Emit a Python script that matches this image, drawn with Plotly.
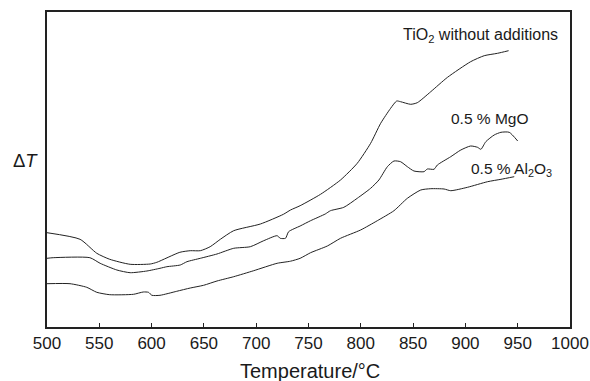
import plotly.graph_objects as go

# TiO2 without additions
t_tio2 = [500, 531.6, 547.6, 560, 579.5, 598.7, 605, 627, 637, 646.6, 656, 665.7, 678.5, 704, 726, 732.8, 742,
          761.5, 780.6, 796.6, 809.4, 819, 828.5, 834.3, 838, 847.7, 854, 866.9, 882.9, 905, 918, 930.7, 941.3]
v_tio2 = [94.3, 87.7, 73.7, 67.7, 62.7, 63, 64.7, 74.7, 76.3, 76.3, 80.3, 87.7, 96.3, 103, 112.7, 117, 121.3,
          132.7, 147, 163.7, 183.7, 203.7, 218.7, 226, 225.3, 222.7, 224.3, 235.3, 249.7, 265.3, 271.3, 273.7, 276.3]

# 0.5 % MgO
t_mgo = [500, 506, 541, 550.8, 566.8, 579.5, 595.5, 608, 614.6, 627.4, 633.8, 646.6, 662.5, 678.5, 694.4, 707.2,
         720, 723, 728, 731, 742, 752, 766, 771, 783.8, 796.6, 809.4, 817.3, 825.4, 831.7, 838, 844.5, 850.8,
         860.4, 863.6, 870, 873.2, 886, 895.6, 905, 911.6, 914.8, 919.5, 927.5, 934, 941.9, 950]
v_mgo = [68.7, 69.3, 69.3, 63.7, 57, 54.3, 56, 58.7, 60.3, 62, 65.3, 68.7, 73, 78.7, 80.3, 86.3,
         91.3, 88.7, 88.7, 95.3, 101, 106.3, 113, 116.3, 119.7, 128.7, 138.7, 147, 160.3, 166, 165.3, 160.3, 156,
         155.3, 158, 157.7, 162, 170.3, 177, 181, 179.7, 177.7, 185.3, 192, 194.7, 194.7, 186]

# 0.5 % Al2O3
t_al = [500, 522, 538, 547.6, 560, 582.7, 592, 597, 600.3, 608, 624, 637, 649.7, 662.5, 678.5, 697.6, 720, 732.8,
        742, 752, 768, 780.6, 799.8, 815.8, 831.7, 844.5, 857.3, 866.9, 879.6, 886, 902, 921.2, 934, 946.7]
v_al = [43.3, 43.3, 39.7, 34.7, 32.3, 32.7, 35, 34.7, 31.7, 31.7, 35.7, 39, 41.7, 46, 50.3, 56.3, 63.7, 65.8,
        68.7, 74.3, 81, 88.7, 97, 106.3, 116.3, 128.7, 137, 138.3, 138, 136.3, 139.7, 145.3, 147.7, 150.3]

x_ticks = [500, 550, 600, 650, 700, 750, 800, 850, 900, 950, 1000]

FONT = "Liberation Sans, Arial, Helvetica, sans-serif"
LINE = "#222222"
TXT = "#1a1a1a"

fig = go.Figure()
for t, v in [(t_tio2, v_tio2), (t_mgo, v_mgo), (t_al, v_al)]:
    fig.add_trace(go.Scatter(x=t, y=v, mode="lines",
                             line=dict(color=LINE, width=1, shape="spline", smoothing=0.6),
                             showlegend=False, hoverinfo="skip"))

fig.update_layout(
    width=590, height=381,
    margin=dict(l=47, r=20, t=12, b=54),
    paper_bgcolor="white", plot_bgcolor="white",
    font=dict(family=FONT, color=TXT, size=17),
    xaxis=dict(range=[500, 1000], tickvals=x_ticks, ticktext=[str(v) for v in x_ticks],
               ticks="inside", ticklen=4, tickwidth=1, tickcolor="#222", automargin=False,
               showline=True, linewidth=2, linecolor="#222", mirror=True,
               showgrid=False, zeroline=False, tickfont=dict(size=17, family=FONT, color=TXT)),
    yaxis=dict(range=[0, 315], showticklabels=False, ticks="", automargin=False,
               showline=True, linewidth=2, linecolor="#222", mirror=True,
               showgrid=False, zeroline=False),
    annotations=[
        dict(x=838.5, y=292, xref="x", yref="y", text="TiO<sub>2</sub> without additions", showarrow=False,
             xanchor="left", yanchor="middle", font=dict(size=16, family=FONT, color=TXT)),
        dict(x=884, y=209, xref="x", yref="y", text="0.5 % MgO", showarrow=False,
             xanchor="left", yanchor="middle", font=dict(size=15.5, family=FONT, color=TXT)),
        dict(x=903.5, y=158, xref="x", yref="y", text="0.5 % Al<sub>2</sub>O<sub>3</sub>", showarrow=False,
             xanchor="left", yanchor="middle", font=dict(size=15.5, family=FONT, color=TXT)),
        dict(x=-0.042, y=0.528, xref="paper", yref="paper", text="Δ<i>T</i>", showarrow=False,
             xanchor="center", yanchor="middle", font=dict(size=18.5, family=FONT, color=TXT)),
        dict(x=0.502, y=-0.1397, xref="paper", yref="paper", text="Temperature/°C", showarrow=False,
             xanchor="center", yanchor="middle", font=dict(size=20, family=FONT, color=TXT)),
    ],
)

fig.write_html("out.html")
